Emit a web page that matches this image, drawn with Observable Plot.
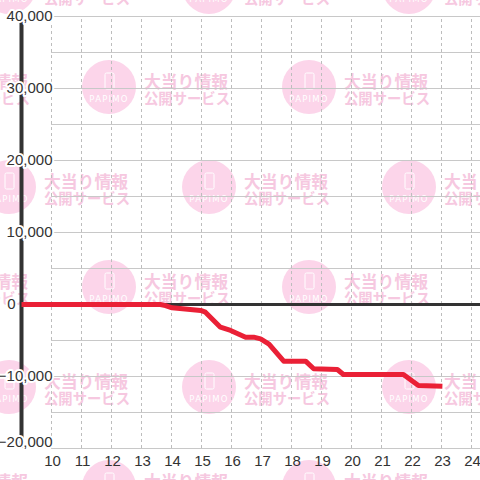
<!DOCTYPE html>
<html>
<head>
<meta charset="utf-8">
<script src="https://cdn.jsdelivr.net/npm/d3@7"></script>
<script src="https://cdn.jsdelivr.net/npm/@observablehq/plot@0.6"></script>
<style>
  html, body { margin: 0; padding: 0; background: #fff; }
  #wrap { position: relative; width: 480px; height: 480px; overflow: hidden; }
  #wm, #chart { position: absolute; left: 0; top: 0; }
  #chart svg { background: transparent !important; }
</style>
</head>
<body>
<div id="wrap">
  <svg id="wm" width="480" height="480"></svg>
  <div id="chart"></div>
</div>
<script>
// ---- data ----
const hours  = [9, 13.63, 13.8, 14.02, 14.97, 15.13, 15.63, 15.97, 16.47, 16.74, 16.97, 17.25, 17.74, 18.47, 18.74, 19.53, 19.73, 21.73, 22.23, 23.03];
const values = [0, 0, -150, -460, -830, -1070, -3150, -3600, -4540, -4540, -4770, -5500, -7870, -7870, -8930, -9030, -9720, -9720, -11250, -11350];
const xTicks = [10, 11, 12, 13, 14, 15, 16, 17, 18, 19, 20, 21, 22, 23, 24];
const yTicks = [-20000, -10000, 0, 10000, 20000, 30000, 40000];
const yGrid  = [-20000, -15000, -10000, -5000, 0, 5000, 10000, 15000, 20000, 25000, 30000, 35000, 40000];
const wmLine1 = "大当り情報";
const wmLine2 = "公開サービス";
const wmLogo  = "PAPIMO";

const series = hours.map((h, i) => ({hour: h, value: values[i]}));
const xDomain = [9, 24.3];
const yDomain = [-20000, 40000];
const fmt = d3.format(",");

// ---- background watermark (decorative) ----
const ns = "http://www.w3.org/2000/svg";
const wm = document.getElementById("wm");
function el(tag, attrs, text) {
  const e = document.createElementNS(ns, tag);
  for (const k in attrs) e.setAttribute(k, attrs[k]);
  if (text) e.textContent = text;
  wm.appendChild(e);
  return e;
}
for (let r = -1; r <= 5; r++) {
  const cy = -13 + 100 * r;
  const off = (r % 2 === 0) ? 9 : 109;
  for (let k = -1; k <= 3; k++) {
    const cx = off + 200 * k;
    el("circle", {cx, cy, r: 27, fill: "#fcd5ea"});
    el("rect", {x: cx - 4, y: cy - 14, width: 9, height: 16, rx: 1.5, fill: "none", stroke: "#fff", "stroke-width": 1});
    el("text", {x: cx, y: cy + 15, "text-anchor": "middle", fill: "#fff", "font-family": "DejaVu Sans", "font-size": 8.5, "letter-spacing": 1.2}, wmLogo);
    el("text", {x: cx + 35, y: cy + 1, fill: "#f6c8e0", "font-family": "Noto Sans CJK JP", "font-weight": "bold", "font-size": 17, textLength: 84, lengthAdjust: "spacingAndGlyphs"}, wmLine1);
    el("text", {x: cx + 35, y: cy + 17, fill: "#f6c8e0", "font-family": "Noto Sans CJK JP", "font-weight": "bold", "font-size": 15, textLength: 86, lengthAdjust: "spacingAndGlyphs"}, wmLine2);
  }
}

// ---- chart ----
const labelStyle = {fontSize: 15, fill: "#333", stroke: "white", strokeWidth: 4, textAnchor: "end"};
const chart = Plot.plot({
  width: 480,
  height: 480,
  marginLeft: 21,
  marginRight: 0,
  marginTop: 16,
  marginBottom: 32,
  style: {background: "transparent", fontFamily: "Liberation Sans, Arial, sans-serif"},
  x: {domain: xDomain, axis: null},
  y: {domain: yDomain, axis: null},
  marks: [
    Plot.ruleY(yGrid, {x1: 10, x2: xDomain[1], stroke: "#c8c8c8", strokeWidth: 1}),
    Plot.ruleX(xTicks, {y1: yDomain[0], y2: yDomain[1], stroke: "#bdbdbd", strokeWidth: 1, strokeDasharray: "3,3"}),
    Plot.ruleY([0], {x1: xDomain[0], x2: xDomain[1], stroke: "#333", strokeWidth: 3}),
    Plot.ruleX([xDomain[0]], {y1: yDomain[0], y2: yDomain[1], stroke: "#333", strokeWidth: 4}),
    Plot.line(series, {x: "hour", y: "value", stroke: "#ea2036", strokeWidth: 5, strokeLinejoin: "round", strokeLinecap: "butt"}),
    // y labels: regular ones
    Plot.text(yTicks.filter(d => d !== 0 && d !== yDomain[0]), {
      x: 10, y: d => d, text: d => fmt(d), dx: 1, ...labelStyle
    }),
    // zero label sits left of the axis line
    Plot.text(yTicks.filter(d => d === 0), {
      x: 10, y: d => d, text: d => fmt(d), dx: -36, ...labelStyle
    }),
    // bottom label nudged up
    Plot.text(yTicks.filter(d => d === yDomain[0]), {
      x: 10, y: d => d, text: d => fmt(d), dx: 1, dy: -6, ...labelStyle
    }),
    Plot.text(xTicks, {
      x: d => d, y: yDomain[0], text: d => String(d),
      dx: 1, dy: 13, fontSize: 15, fill: "#333"
    })
  ]
});
document.getElementById("chart").appendChild(chart);
</script>
</body>
</html>
